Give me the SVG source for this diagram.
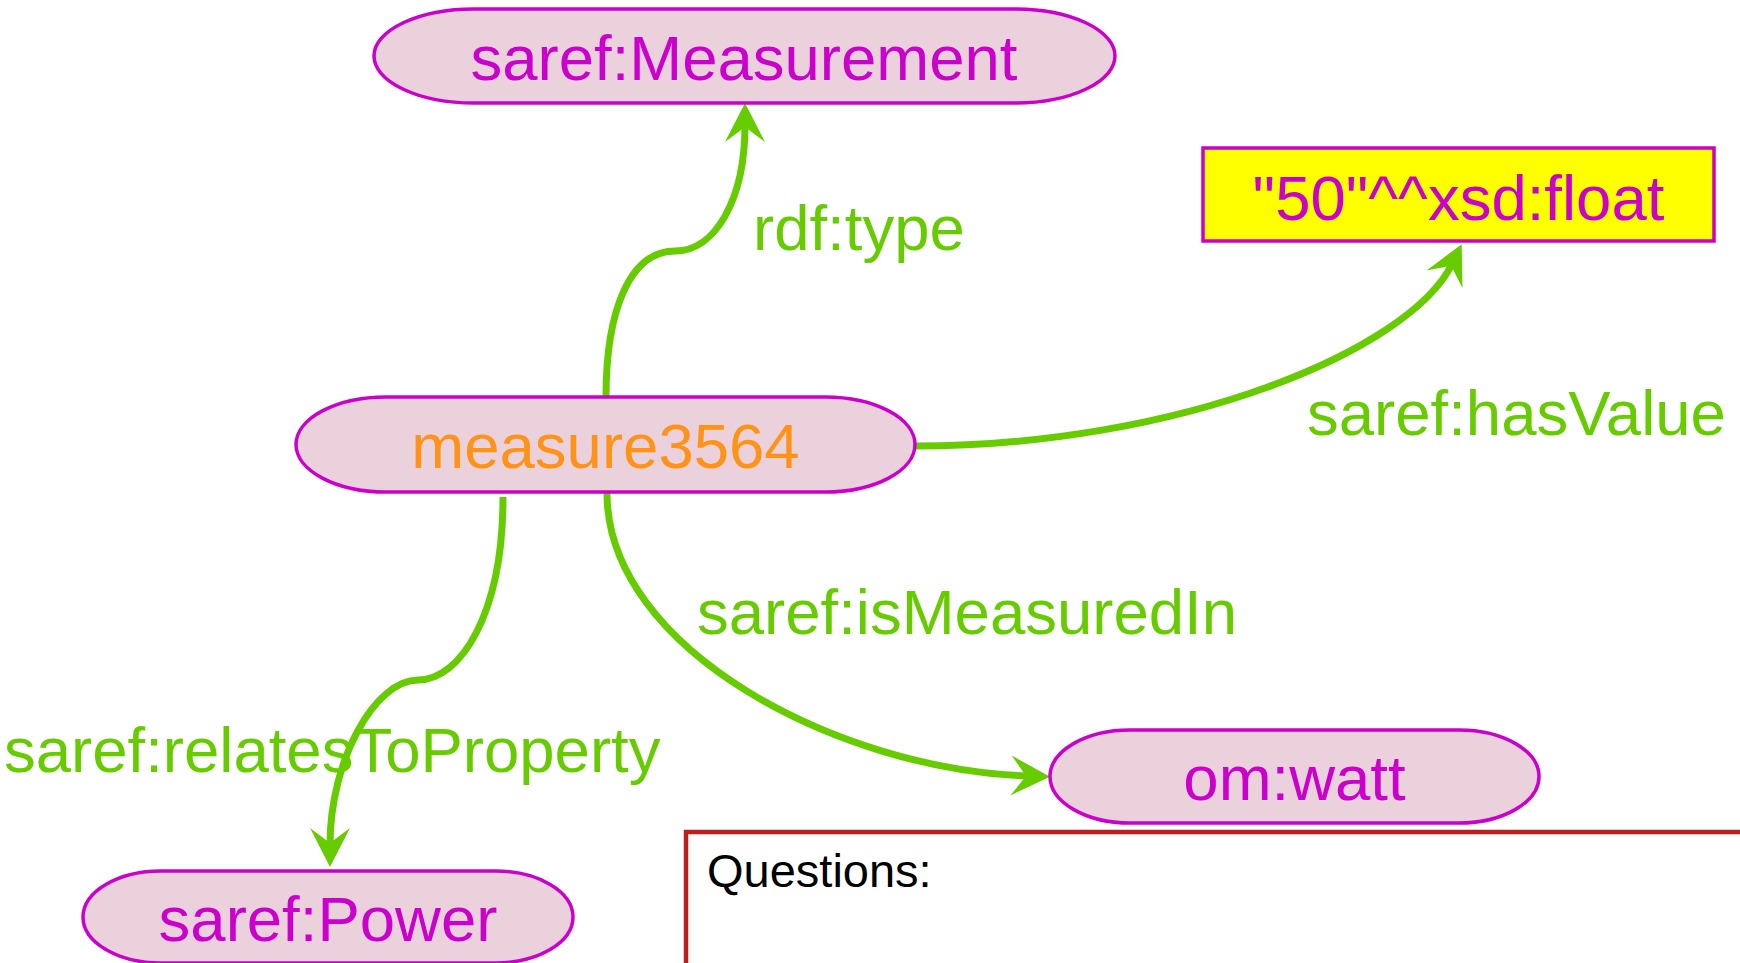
<svg xmlns="http://www.w3.org/2000/svg" width="1740" height="963" viewBox="0 0 1740 963">
<style>
.node rect { fill: #ead1dc; stroke: #cc00cc; stroke-width: 3.5; }
.node text { font-family: "Liberation Sans", Arial, sans-serif; font-size: 63.5px; fill: #cc00cc; text-anchor: middle; }
.node text.res { fill: #ff9317; }
.node rect.lit { fill: #ffff00; }
.edge { fill: none; stroke: #66cc00; stroke-width: 7; marker-end: url(#arrow); }
.elabel { font-family: "Liberation Sans", Arial, sans-serif; font-size: 63.5px; fill: #66cc00; }
.qbox { fill: #ffffff; stroke: #bf1e1e; stroke-width: 4.5; }
.qtext { font-family: "Liberation Sans", Arial, sans-serif; font-size: 47px; fill: #000000; }
</style>
<defs>
<marker id="arrow" markerUnits="userSpaceOnUse" viewBox="-41 -22 43 44" refX="-22" refY="0" markerWidth="43" markerHeight="44" orient="auto">
<path d="M0,0 L-39,-20 L-24,0 L-39,20 Z" fill="#66cc00"/>
</marker>
</defs>
<rect width="1740" height="963" fill="#ffffff"/>
<g id="questions">
<rect class="qbox" x="686" y="832" width="1100" height="200"/>
<text class="qtext" x="707" y="887">Questions:</text>
</g>
<g id="connectors">
<path class="edge" d="M606,397 C606,310 630,251 675,251 C715,251 745,200 745,125"/>
<path class="edge" d="M915,446 C1180,446 1410,350 1452,264"/>
<path class="edge" d="M607,493 C607,650 840,770 1028,776"/>
<path class="edge" d="M503,497 C503,615 460,680 418,680 C375,680 330,760 330,845"/>
<text class="elabel" x="753" y="250">rdf:type</text>
<text class="elabel" x="1307" y="435">saref:hasValue</text>
<text class="elabel" x="697" y="634">saref:isMeasuredIn</text>
<text class="elabel" x="4" y="772">saref:relatesToProperty</text>
</g>
<g id="node-measurement" class="node">
<rect x="374" y="9" width="741" height="94" rx="100" ry="47"/>
<text x="744" y="80">saref:Measurement</text>
</g>
<g id="node-measure3564" class="node">
<rect x="296" y="397" width="619" height="95" rx="90" ry="47.5"/>
<text class="res" x="605.5" y="468">measure3564</text>
</g>
<g id="node-value" class="node">
<rect class="lit" x="1203" y="148" width="511" height="93"/>
<text x="1458.5" y="220">"50"^^xsd:float</text>
</g>
<g id="node-watt" class="node">
<rect x="1050" y="730" width="489" height="93" rx="80" ry="46.5"/>
<text x="1294.5" y="800">om:watt</text>
</g>
<g id="node-power" class="node">
<rect x="83" y="871" width="490" height="92" rx="78" ry="46"/>
<text x="328" y="941">saref:Power</text>
</g>
</svg>
